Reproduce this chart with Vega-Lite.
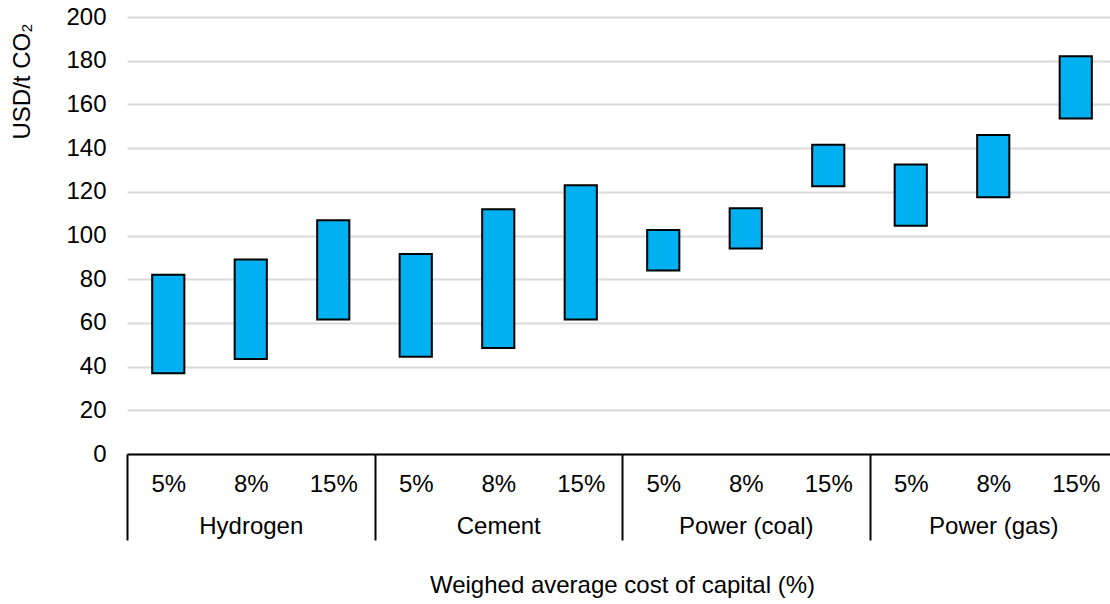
{
  "$schema": "https://vega.github.io/schema/vega-lite/v6.json",
  "autosize": "none",
  "padding": {"left": 127, "top": 17, "right": 0, "bottom": 150},
  "width": 983,
  "height": 437,
  "background": "white",
  "config": {
    "view": {"stroke": null},
    "font": "Liberation Sans"
  },
  "data": {
    "values": [
      {"key": "Hydrogen|5%", "sector": "Hydrogen", "wacc": "5%", "low": 37, "high": 82},
      {"key": "Hydrogen|8%", "sector": "Hydrogen", "wacc": "8%", "low": 43.5, "high": 89},
      {"key": "Hydrogen|15%", "sector": "Hydrogen", "wacc": "15%", "low": 61.5, "high": 107},
      {"key": "Cement|5%", "sector": "Cement", "wacc": "5%", "low": 44.5, "high": 91.5},
      {"key": "Cement|8%", "sector": "Cement", "wacc": "8%", "low": 48.5, "high": 112},
      {"key": "Cement|15%", "sector": "Cement", "wacc": "15%", "low": 61.5, "high": 123},
      {"key": "Power (coal)|5%", "sector": "Power (coal)", "wacc": "5%", "low": 84, "high": 102.5},
      {"key": "Power (coal)|8%", "sector": "Power (coal)", "wacc": "8%", "low": 94, "high": 112.5},
      {"key": "Power (coal)|15%", "sector": "Power (coal)", "wacc": "15%", "low": 122.5, "high": 141.5},
      {"key": "Power (gas)|5%", "sector": "Power (gas)", "wacc": "5%", "low": 104.5, "high": 132.5},
      {"key": "Power (gas)|8%", "sector": "Power (gas)", "wacc": "8%", "low": 117.5, "high": 146},
      {"key": "Power (gas)|15%", "sector": "Power (gas)", "wacc": "15%", "low": 153.5, "high": 182}
    ]
  },
  "mark": {"type": "bar", "width": {"band": 0.39}, "fill": "#00B0F0", "stroke": "#000000", "strokeWidth": 2},
  "encoding": {
    "x": {
      "field": "key",
      "type": "nominal",
      "sort": null,
      "scale": {"range": [0, 990], "paddingInner": 0, "paddingOuter": 0},
      "axis": {
        "title": "Weighed average cost of capital (%)",
        "titleFont": "Liberation Sans",
        "titleFontSize": 24,
        "titleFontWeight": "normal",
        "titleColor": "#000000",
        "titlePadding": 32,
        "labelAngle": 0,
        "labelFont": "Liberation Sans",
        "labelFontSize": 24,
        "labelColor": "#000000",
        "labelBaseline": "top",
        "labelOverlap": false,
        "labelLineHeight": 42,
        "labelPadding": -68,
        "labelExpr": "split(datum.value, '|')[1] === '8%' ? [split(datum.value, '|')[1], split(datum.value, '|')[0]] : split(datum.value, '|')[1]",
        "domainColor": "#000000",
        "domainWidth": 2,
        "tickBand": "extent",
        "tickSize": 86,
        "tickWidth": 2,
        "tickColor": {"condition": {"test": "datum.extra || indexof(datum.value, '|15%') >= 0", "value": "#000000"}, "value": "transparent"},
        "grid": false
      }
    },
    "y": {
      "field": "low",
      "type": "quantitative",
      "scale": {"domain": [0, 200], "nice": false},
      "axis": {
        "title": "USD/t CO₂",
        "titleFont": "Liberation Sans",
        "titleFontSize": 24,
        "titleFontWeight": "normal",
        "titleColor": "#000000",
        "titleAnchor": "end",
        "titleY": 6,
        "titlePadding": 31,
        "values": [0, 20, 40, 60, 80, 100, 120, 140, 160, 180, 200],
        "labelFont": "Liberation Sans",
        "labelFontSize": 24,
        "labelColor": "#000000",
        "labelPadding": 21,
        "ticks": false,
        "domain": false,
        "grid": true,
        "gridColor": "#d9d9d9",
        "gridWidth": 2
      }
    },
    "y2": {"field": "high"}
  }
}
